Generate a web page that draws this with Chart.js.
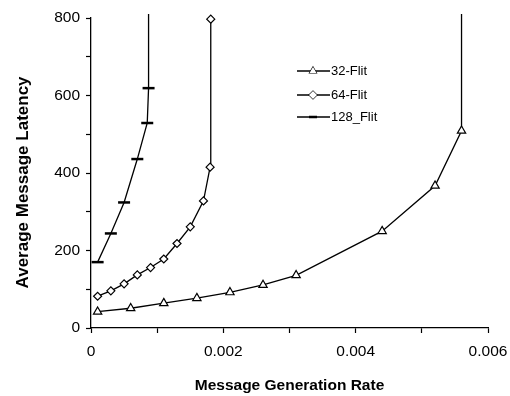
<!DOCTYPE html>
<html>
<head>
<meta charset="utf-8">
<script src="https://cdn.jsdelivr.net/npm/chart.js@4"></script>
<style>
  body { margin: 0; background: #fff; }
  #wrap { width: 510px; height: 396px; }
</style>
</head>
<body>
<div id="wrap"><canvas id="latencyChart"></canvas></div>
<script>
const seriesNames = ['32-Flit', '64-Flit', '128_Flit'];

// rates / latencies (last points go off the top)
const rate32 = [0.0001, 0.0006, 0.0011, 0.0016, 0.0021, 0.0026, 0.0031, 0.0044, 0.0052, 0.0056, 0.0056];
const lat32 = [42, 51, 64, 77, 92, 111, 136, 250, 367, 509, 5000];

const rate64 = [0.0001, 0.0003, 0.0005, 0.0007, 0.0009, 0.0011, 0.0013, 0.0015, 0.0017, 0.0018, 0.00181];
const lat64 = [82, 96, 114, 137, 156, 178, 218, 261, 328, 415, 797];

const rate128 = [0.0001, 0.0003, 0.0005, 0.0007, 0.00085, 0.00087, 0.00087];
const lat128 = [170, 244, 324, 436, 529, 619, 5000];

const xTicks = [0, 0.002, 0.004, 0.006];
const yTicks = [0, 200, 400, 600, 800];

const font = 'Liberation Sans, Arial, sans-serif';
const pointStyles = ['triangle', 'rectRot', 'line'];
const pointSizes = [4.8, 4, 6];

function toPoints(xs, ys) {
  return xs.map((x, i) => ({ x: x, y: ys[i] }));
}

function makeSet(i, xs, ys) {
  const dash = pointStyles[i] === 'line';
  return {
    label: seriesNames[i],
    data: toPoints(xs, ys),
    showLine: true,
    borderColor: '#000',
    borderWidth: 1.3,
    backgroundColor: '#fff',
    pointStyle: pointStyles[i],
    pointRadius: pointSizes[i],
    pointBorderWidth: dash ? 2.5 : 1.2,
    pointBorderColor: '#000',
    pointBackgroundColor: '#fff',
    clip: { left: 5, right: 5, top: 4, bottom: 5 }
  };
}

// legend drawn inside the plot
const innerLegend = {
  id: 'innerLegend',
  afterDraw(chart) {
    const ctx = chart.ctx;
    const x0 = 297;
    const rows = [71, 95, 117];
    chart.data.datasets.forEach((ds, i) => {
      const y = rows[i];
      ctx.save();
      ctx.strokeStyle = '#000';
      ctx.lineWidth = 1.3;
      ctx.beginPath();
      ctx.moveTo(x0, y);
      ctx.lineTo(x0 + 33, y);
      ctx.stroke();
      const dash = ds.pointStyle === 'line';
      ctx.fillStyle = '#fff';
      ctx.lineWidth = dash ? 2.5 : 1.2;
      Chart.helpers.drawPoint(ctx, {
        pointStyle: ds.pointStyle,
        radius: dash ? 4 : 4,
        borderWidth: ctx.lineWidth,
        rotation: 0
      }, x0 + 16, y);
      if (!dash) ctx.fill();
      ctx.fillStyle = '#000';
      ctx.font = '13px ' + font;
      ctx.textBaseline = 'middle';
      ctx.fillText(ds.label, x0 + 34, y);
      ctx.restore();
    });
  }
};

new Chart(document.getElementById('latencyChart'), {
  type: 'scatter',
  data: {
    datasets: [
      makeSet(0, rate32, lat32),
      makeSet(1, rate64, lat64),
      makeSet(2, rate128, lat128)
    ]
  },
  options: {
    responsive: true,
    maintainAspectRatio: false,
    animation: false,
    layout: { padding: { top: 18, right: 22, left: 0, bottom: 0 } },
    plugins: {
      legend: { display: false },
      tooltip: { enabled: false }
    },
    scales: {
      x: {
        type: 'linear',
        min: 0,
        max: 0.006,
        afterBuildTicks: s => { s.ticks = [0, 0.001, 0.002, 0.003, 0.004, 0.005, 0.006].map(v => ({ value: v })); },
        afterFit: s => { s.height = 68; s.paddingRight = 0; s.paddingLeft = 0; },
        border: { color: '#000', width: 1.3 },
        grid: { drawOnChartArea: false, color: '#000', tickLength: 5, tickWidth: 1.2 },
        ticks: {
          color: '#000',
          font: { family: font, size: 15.5 },
          padding: 9,
          maxRotation: 0,
          callback: v => xTicks.includes(Math.round(v * 10000) / 10000) ? String(Math.round(v * 10000) / 10000) : ''
        },
        title: {
          display: true,
          text: 'Message Generation Rate',
          color: '#000',
          font: { family: font, size: 15.5, weight: 'bold' },
          padding: { top: 4, bottom: 1 }
        }
      },
      y: {
        min: 0,
        max: 800,
        afterBuildTicks: s => { s.ticks = [0, 100, 200, 300, 400, 500, 600, 700, 800].map(v => ({ value: v })); },
        afterFit: s => { s.width = 91; },
        border: { color: '#000', width: 1.3 },
        grid: { drawOnChartArea: false, color: '#000', tickLength: 5, tickWidth: 1.2 },
        ticks: {
          color: '#000',
          font: { family: font, size: 15.5 },
          padding: 6,
          callback: v => yTicks.includes(v) ? String(v) : ''
        },
        title: {
          display: true,
          // trailing spaces nudge the visible text down, as in the picture
          text: 'Average Message Latency    ',
          color: '#000',
          font: { family: font, size: 17, weight: 'bold' },
          padding: { top: 13, bottom: 4 }
        }
      }
    }
  },
  plugins: [innerLegend]
});
</script>
</body>
</html>
